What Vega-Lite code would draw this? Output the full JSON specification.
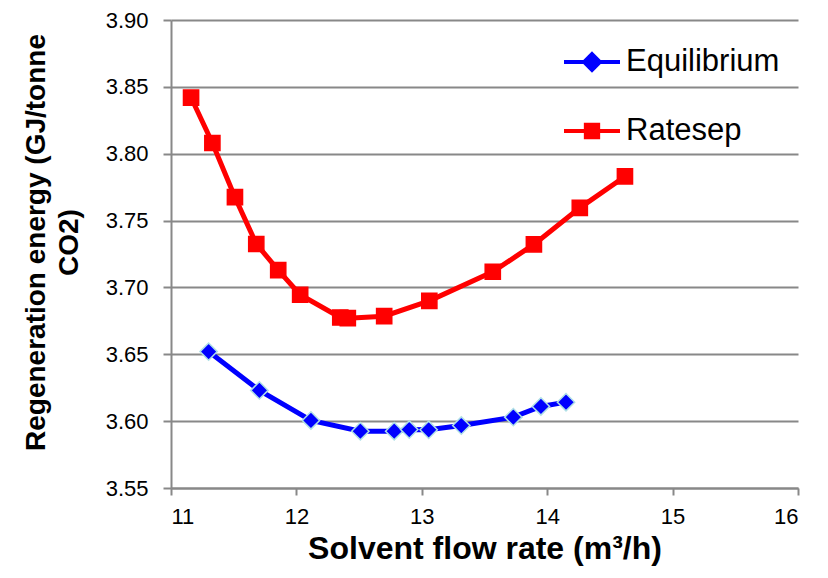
{
  "$schema": "https://vega.github.io/schema/vega-lite/v6.json",
  "autosize": {"type": "none"},
  "width": 627,
  "height": 468,
  "padding": {"left": 171, "top": 20, "right": 30, "bottom": 90},
  "background": "white",
  "config": {
    "view": {"stroke": null},
    "font": "Liberation Sans",
    "axis": {
      "domainColor": "#888888",
      "domainWidth": 2,
      "tickColor": "#888888",
      "tickWidth": 2,
      "gridColor": "#888888",
      "gridWidth": 2,
      "labelColor": "black",
      "labelFontSize": 22,
      "labelFont": "Liberation Sans",
      "titleFont": "Liberation Sans",
      "titleFontWeight": "bold",
      "titleColor": "black"
    }
  },
  "data": {
    "values": [
      {"flow": 11.30, "energy": 3.652, "series": "Equilibrium"},
      {"flow": 11.705, "energy": 3.623, "series": "Equilibrium"},
      {"flow": 12.116, "energy": 3.6005, "series": "Equilibrium"},
      {"flow": 12.51, "energy": 3.5925, "series": "Equilibrium"},
      {"flow": 12.78, "energy": 3.5925, "series": "Equilibrium"},
      {"flow": 12.90, "energy": 3.5937, "series": "Equilibrium"},
      {"flow": 13.055, "energy": 3.5935, "series": "Equilibrium"},
      {"flow": 13.315, "energy": 3.5967, "series": "Equilibrium"},
      {"flow": 13.73, "energy": 3.603, "series": "Equilibrium"},
      {"flow": 13.95, "energy": 3.611, "series": "Equilibrium"},
      {"flow": 14.15, "energy": 3.6142, "series": "Equilibrium"},
      {"flow": 11.16, "energy": 3.842, "series": "Ratesep"},
      {"flow": 11.33, "energy": 3.808, "series": "Ratesep"},
      {"flow": 11.51, "energy": 3.7675, "series": "Ratesep"},
      {"flow": 11.68, "energy": 3.7325, "series": "Ratesep"},
      {"flow": 11.855, "energy": 3.713, "series": "Ratesep"},
      {"flow": 12.03, "energy": 3.6945, "series": "Ratesep"},
      {"flow": 12.35, "energy": 3.6775, "series": "Ratesep"},
      {"flow": 12.41, "energy": 3.677, "series": "Ratesep"},
      {"flow": 12.70, "energy": 3.6785, "series": "Ratesep"},
      {"flow": 13.06, "energy": 3.690, "series": "Ratesep"},
      {"flow": 13.566, "energy": 3.7117, "series": "Ratesep"},
      {"flow": 13.894, "energy": 3.7322, "series": "Ratesep"},
      {"flow": 14.26, "energy": 3.7595, "series": "Ratesep"},
      {"flow": 14.62, "energy": 3.783, "series": "Ratesep"}
    ]
  },
  "encoding": {
    "x": {
      "field": "flow",
      "type": "quantitative",
      "scale": {"domain": [11, 16], "nice": false, "zero": false},
      "axis": {
        "title": "Solvent flow rate (m³/h)",
        "titleFontSize": 32,
        "values": [11, 12, 13, 14, 15, 16],
        "grid": false,
        "tickSize": 7,
        "labelPadding": 11,
        "titlePadding": 6
      }
    },
    "y": {
      "field": "energy",
      "type": "quantitative",
      "scale": {"domain": [3.55, 3.90], "nice": false, "zero": false},
      "axis": {
        "title": ["Regeneration energy (GJ/tonne", "CO2)"],
        "titleFontSize": 28,
        "titleLineHeight": 33,
        "titleY": 222,
        "values": [3.55, 3.60, 3.65, 3.70, 3.75, 3.80, 3.85, 3.90],
        "format": ".2f",
        "grid": true,
        "tickSize": 8,
        "labelPadding": 15,
        "titlePadding": 22
      }
    }
  },
  "layer": [
    {
      "mark": {"type": "line", "strokeWidth": 5},
      "encoding": {
        "color": {
          "field": "series",
          "type": "nominal",
          "scale": {"domain": ["Equilibrium", "Ratesep"], "range": ["#0000ff", "#ff0000"]},
          "legend": {
            "title": null,
            "orient": "none",
            "legendX": 391,
            "legendY": 12,
            "padding": 0,
            "labelFontSize": 31,
            "labelFont": "Liberation Sans",
            "labelColor": "black",
            "labelOffset": 4,
            "rowPadding": 23,
            "symbolSize": 3136,
            "symbolStrokeWidth": 4,
            "encode": {
              "symbols": {
                "update": {
                  "shape": {"signal": "datum.value === 'Equilibrium' ? 'M-1,0H-0.25M0.25,0H1M0,-0.28L0.28,0L0,0.28L-0.28,0Z' : 'M-1,0H-0.22M0.22,0H1M-0.22,-0.22H0.22V0.22H-0.22Z'"},
                  "fill": {"signal": "datum.value === 'Equilibrium' ? '#0000ff' : '#ff0000'"},
                  "stroke": {"signal": "datum.value === 'Equilibrium' ? '#0000ff' : '#ff0000'"},
                  "opacity": {"value": 1},
                  "strokeOpacity": {"value": 1},
                  "fillOpacity": {"value": 1}
                }
              }
            }
          }
        }
      }
    },
    {
      "mark": {"type": "point", "filled": true, "opacity": 1, "strokeWidth": 1.5},
      "encoding": {
        "shape": {"condition": {"test": "datum.series === 'Equilibrium'", "value": "diamond"}, "value": "square"},
        "fill": {"condition": {"test": "datum.series === 'Equilibrium'", "value": "#0000ff"}, "value": "#ff0000"},
        "size": {"condition": {"test": "datum.series === 'Equilibrium'", "value": 300}, "value": 230},
        "stroke": {"condition": {"test": "datum.series === 'Equilibrium'", "value": "#b0e0e6"}, "value": "#ff0000"}
      }
    }
  ]
}
